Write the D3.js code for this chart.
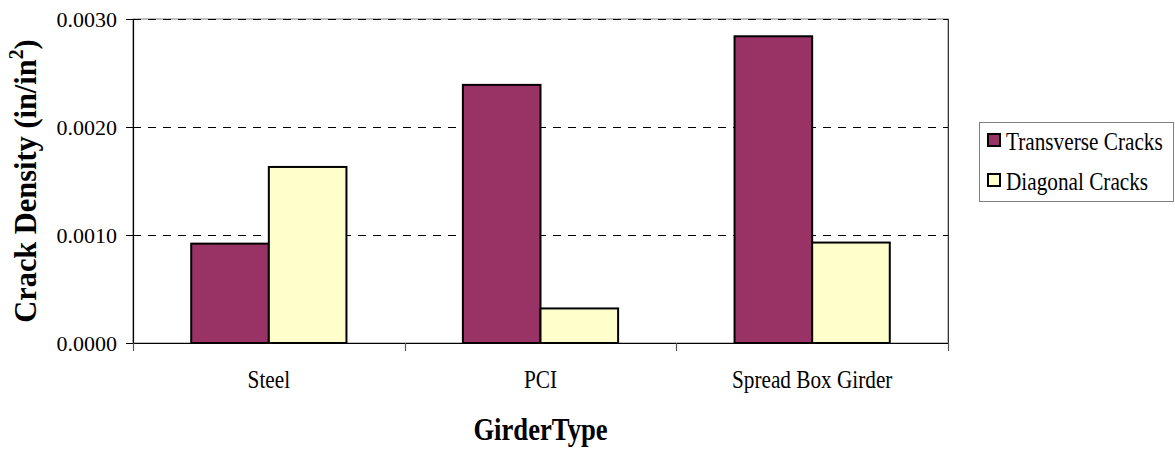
<!DOCTYPE html>
<html><head><meta charset="utf-8">
<script src="https://cdn.jsdelivr.net/npm/d3@7"></script>
<style>body{margin:0;background:#fff}svg{display:block}</style>
</head><body>
<svg id="c" width="1175" height="449"></svg>
<script>
const categories = ["Steel", "PCI", "Spread Box Girder"];
const seriesNames = ["Transverse Cracks", "Diagonal Cracks"];
const transverse = [0.00092, 0.00239, 0.00284];
const diagonal = [0.00163, 0.00032, 0.00093];
const yTicks = [0, 0.001, 0.002, 0.003];
const colors = ["#993366", "#FFFFCC"];

const FONT = "Liberation Serif";
const svg = d3.select("#c");
const L = 133, R = 948, T = 19, B = 343;
const y = d3.scaleLinear().domain([0, 0.003]).range([B, T]);
const x0 = d3.scaleBand().domain(categories).range([L, R]).paddingInner(0.4286).paddingOuter(0.2143);
const x1 = d3.scaleBand().domain(seriesNames).range([0, x0.bandwidth()]).padding(0);
const rows = categories.map((c, i) => ({cat: c, vals: [transverse[i], diagonal[i]]}));

// plot border (gray)
svg.append("rect").attr("x", L).attr("y", T).attr("width", R - L).attr("height", B - T)
  .attr("fill", "none").attr("stroke", "#808080").attr("stroke-width", 1);

// gridlines
svg.append("g").selectAll("line").data(yTicks.filter(d => d > 0)).join("line")
  .attr("x1", L).attr("x2", R).attr("y1", d => Math.round(y(d)) + 0.5).attr("y2", d => Math.round(y(d)) + 0.5)
  .attr("stroke", "#000").attr("stroke-width", 1).attr("stroke-dasharray", "8,7");

// right border darker
svg.append("line").attr("x1", R + 0.5).attr("x2", R + 0.5).attr("y1", T).attr("y2", B + 8)
  .attr("stroke", "#333").attr("stroke-width", 1);

// bars
const g = svg.append("g");
g.selectAll("g").data(rows).join("g")
  .attr("transform", d => `translate(${x0(d.cat)},0)`)
  .selectAll("rect").data(d => d.vals.map((v, j) => ({v, j})))
  .join("rect")
  .attr("x", d => x1(seriesNames[d.j]))
  .attr("width", x1.bandwidth())
  .attr("y", d => y(d.v))
  .attr("height", d => B - y(d.v))
  .attr("fill", d => colors[d.j])
  .attr("stroke", "#000").attr("stroke-width", 2);

// y axis
const ya = svg.append("g").attr("transform", `translate(${L},0)`)
  .call(d3.axisLeft(y).tickValues(yTicks).tickFormat(d3.format(".4f")).tickSize(7).tickPadding(9));
ya.select(".domain").attr("stroke", "#000").attr("stroke-width", 1.2);
ya.selectAll(".tick line").attr("stroke", "#000");
ya.selectAll("text").style("font-family", FONT).style("font-size", "22px").attr("fill", "#000").attr("dy", "0.34em");

// x axis line + boundary ticks
svg.append("line").attr("x1", L).attr("x2", R).attr("y1", B + 0.5).attr("y2", B + 0.5).attr("stroke", "#000").attr("stroke-width", 1.2);
const step = x0.step();
const bounds = categories.map(c => x0(c) - step * x0.paddingInner() / 2).concat([R]);
svg.append("g").selectAll("line").data(bounds).join("line")
  .attr("x1", d => Math.round(d) + 0.5).attr("x2", d => Math.round(d) + 0.5).attr("y1", B).attr("y2", B + 8)
  .attr("stroke", "#555").attr("stroke-width", 1.2);

// condensed text helper
function ctext(sel, x, yy, str, size, sx, anchor, weight) {
  return sel.append("text").attr("transform", `translate(${x},${yy}) scale(${sx},1)`)
    .style("font-family", FONT).style("font-size", size + "px").style("font-weight", weight || "normal")
    .attr("text-anchor", anchor).attr("fill", "#000").text(str);
}

// category labels
categories.forEach(c => ctext(svg, x0(c) + x0.bandwidth() / 2, 388, c, 25, 0.85, "middle"));

// x title
ctext(svg, (L + R) / 2, 440, "GirderType", 31, 0.86, "middle", "bold");

// y title
const yt = svg.append("text").attr("transform", `translate(36,${(T + B) / 2}) rotate(-90) scale(0.95,1)`)
  .style("font-family", FONT).style("font-size", "32px").style("font-weight", "bold")
  .attr("text-anchor", "middle").attr("fill", "#000");
yt.append("tspan").text("Crack Density (in/in");
yt.append("tspan").style("font-size", "21px").attr("dy", -13).text("2");
yt.append("tspan").attr("dy", 13).text(")");

// legend
const lg = svg.append("g");
lg.append("rect").attr("x", 979.5).attr("y", 122.5).attr("width", 194).attr("height", 79)
  .attr("fill", "#fff").attr("stroke", "#808080").attr("stroke-width", 1);
seriesNames.forEach((s, i) => {
  lg.append("rect").attr("x", 988).attr("y", 134 + i * 40).attr("width", 12).attr("height", 12)
    .attr("fill", colors[i]).attr("stroke", "#000").attr("stroke-width", 2);
  ctext(lg, 1006, 150 + i * 40, s, 25, 0.85, "start");
});
</script>
</body></html>
